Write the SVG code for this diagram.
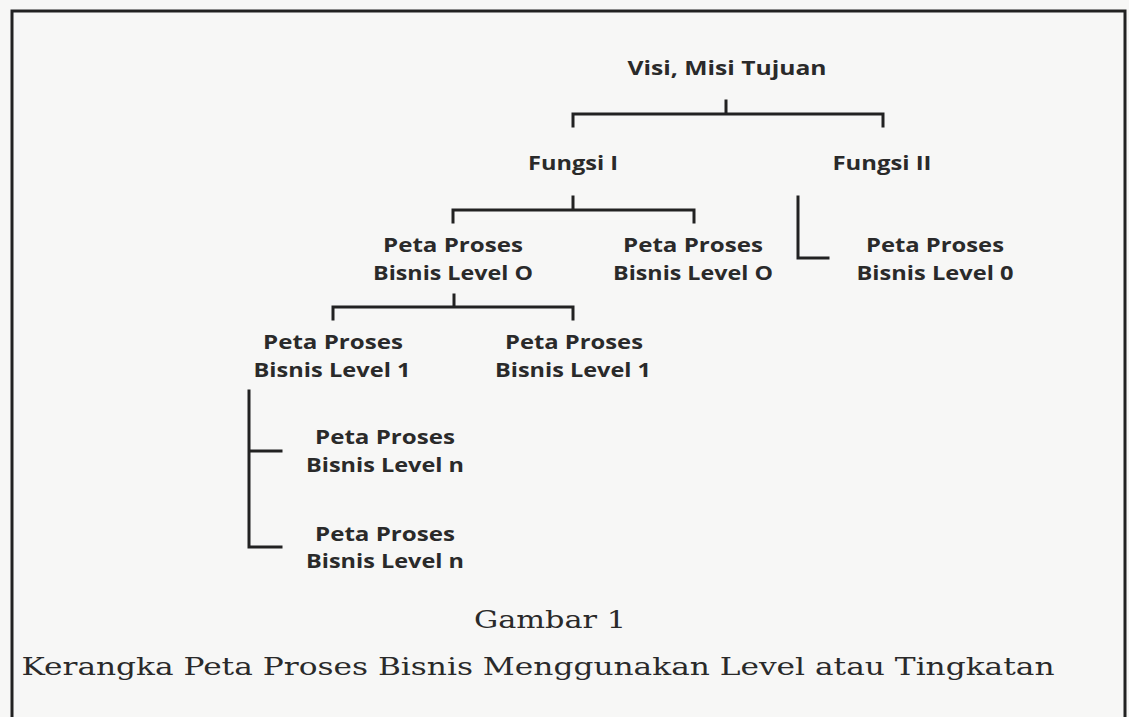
<svg xmlns="http://www.w3.org/2000/svg" width="1129" height="717" viewBox="0 0 1129 717">
<style>
.n{font-family:"Open Sans","Liberation Sans",sans-serif;font-weight:700;font-size:20px;fill:#2a2a2a;text-anchor:middle}
.c{font-family:"DejaVu Serif","Liberation Serif",serif;font-size:24px;fill:#2a2a2a;text-anchor:middle}
.ln{fill:none;stroke:#222;stroke-width:3;stroke-linecap:square;stroke-linejoin:miter}
</style>
<rect x="0" y="0" width="1129" height="717" fill="#f7f7f6"/>
<path d="M12,717 V11 H1125 V717" fill="none" stroke="#222" stroke-width="3"/>
<g id="connectors">
<path class="ln" d="M726,101 V114 M573,126 V114 H883 V126"/>
<path class="ln" d="M573,197 V210 M453,222 V210 H694 V222"/>
<path class="ln" d="M798,197 V258 H828"/>
<path class="ln" d="M454,295 V307 M333,319 V307 H573 V319"/>
<path class="ln" d="M249,391 V547 H281 M249,451 H281"/>
</g>
<g id="n-visi"><text class="n" x="727" y="75" textLength="199" lengthAdjust="spacingAndGlyphs">Visi, Misi Tujuan</text></g>
<g id="n-fungsi1"><text class="n" x="573" y="170" textLength="90" lengthAdjust="spacingAndGlyphs">Fungsi I</text></g>
<g id="n-fungsi2"><text class="n" x="882" y="170" textLength="99" lengthAdjust="spacingAndGlyphs">Fungsi II</text></g>
<g id="n-l0a"><text class="n" x="453" y="252" textLength="140" lengthAdjust="spacingAndGlyphs">Peta Proses</text><text class="n" x="453" y="280" textLength="160" lengthAdjust="spacingAndGlyphs">Bisnis Level O</text></g>
<g id="n-l0b"><text class="n" x="693" y="252" textLength="140" lengthAdjust="spacingAndGlyphs">Peta Proses</text><text class="n" x="693" y="280" textLength="160" lengthAdjust="spacingAndGlyphs">Bisnis Level O</text></g>
<g id="n-l0c"><text class="n" x="935" y="252" textLength="138" lengthAdjust="spacingAndGlyphs">Peta Proses</text><text class="n" x="935" y="280" textLength="157" lengthAdjust="spacingAndGlyphs">Bisnis Level 0</text></g>
<g id="n-l1a"><text class="n" x="333" y="349" textLength="140" lengthAdjust="spacingAndGlyphs">Peta Proses</text><text class="n" x="332" y="377" textLength="157" lengthAdjust="spacingAndGlyphs">Bisnis Level 1</text></g>
<g id="n-l1b"><text class="n" x="574" y="349" textLength="138" lengthAdjust="spacingAndGlyphs">Peta Proses</text><text class="n" x="573" y="377" textLength="156" lengthAdjust="spacingAndGlyphs">Bisnis Level 1</text></g>
<g id="n-lna"><text class="n" x="385" y="444" textLength="140" lengthAdjust="spacingAndGlyphs">Peta Proses</text><text class="n" x="385" y="472" textLength="158" lengthAdjust="spacingAndGlyphs">Bisnis Level n</text></g>
<g id="n-lnb"><text class="n" x="385" y="541" textLength="140" lengthAdjust="spacingAndGlyphs">Peta Proses</text><text class="n" x="385" y="568" textLength="158" lengthAdjust="spacingAndGlyphs">Bisnis Level n</text></g>
<g id="caption">
<text class="c" x="550" y="628" textLength="152" lengthAdjust="spacingAndGlyphs">Gambar 1</text>
<text class="c" x="538" y="675" textLength="1033" lengthAdjust="spacingAndGlyphs">Kerangka Peta Proses Bisnis Menggunakan Level atau Tingkatan</text>
</g>
</svg>
